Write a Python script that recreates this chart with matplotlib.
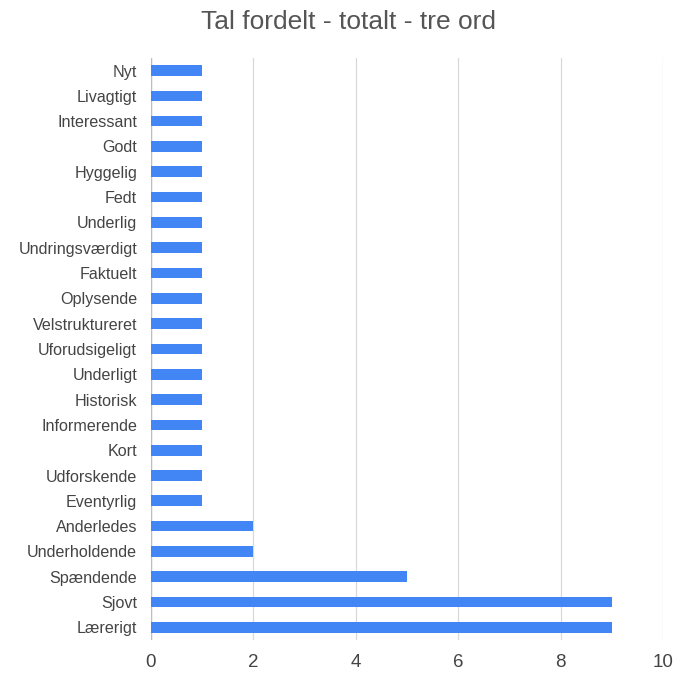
import matplotlib

matplotlib.use("Agg")
import matplotlib.pyplot as plt

# Data, bottom to top as on the chart
ord_liste = [
    "Lærerigt", "Sjovt", "Spændende", "Underholdende", "Anderledes",
    "Eventyrlig", "Udforskende", "Kort", "Informerende", "Historisk",
    "Underligt", "Uforudsigeligt", "Velstruktureret", "Oplysende", "Faktuelt",
    "Undringsværdigt", "Underlig", "Fedt", "Hyggelig", "Godt",
    "Interessant", "Livagtigt", "Nyt",
]
antal = [9, 9, 5, 2, 2, 1, 1, 1, 1, 1, 1, 1, 1, 1, 1, 1, 1, 1, 1, 1, 1, 1, 1]
x_ticks = [0, 2, 4, 6, 8, 10]

FONT = ["Liberation Sans", "DejaVu Sans"]
BLAA = "#4285F4"
TEKST = "#444444"

fig = plt.figure(figsize=(6.74, 6.73), dpi=100)
ax = fig.add_axes([0.224, 0.049, 0.760, 0.865])

pos = list(range(len(ord_liste)))
ax.barh(pos, antal, height=0.42, color=BLAA, zorder=3)

ax.set_xlim(0, 10)
ax.set_ylim(-0.5, len(ord_liste) - 0.5)
ax.set_xticks(x_ticks)
ax.set_xticklabels([str(t) for t in x_ticks], family=FONT, fontsize=13.5, color=TEKST)
ax.set_yticks(pos)
ax.set_yticklabels(ord_liste, family=FONT, fontsize=11.6, color=TEKST)
ax.tick_params(axis="both", length=0)
ax.tick_params(axis="x", pad=10)
ax.tick_params(axis="y", pad=10)

ax.grid(axis="x", color="#d9d9d9", lw=0.9, zorder=0)
for s in ax.spines.values():
    s.set_visible(False)
ax.axvline(0, color="#bdbdbd", lw=1, zorder=2)

fig.suptitle("Tal fordelt - totalt - tre ord", x=0.517, y=0.985,
             family=FONT, fontsize=19, color="#555555")

fig.savefig("out.png", dpi=100)
